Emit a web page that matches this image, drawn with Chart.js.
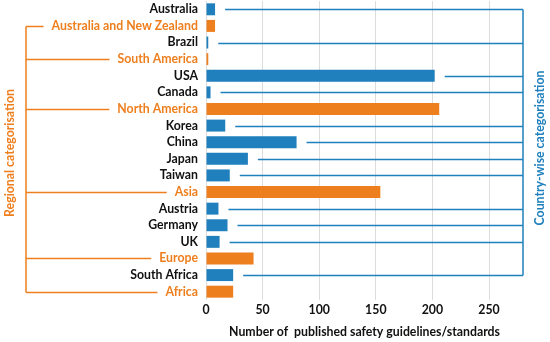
<!DOCTYPE html>
<html>
<head>
<meta charset="utf-8">
<script src="https://cdn.jsdelivr.net/npm/chart.js@4"></script>
<style>
  html, body { margin: 0; padding: 0; background: #fff; }
  #wrap { width: 550px; height: 342px; }
</style>
</head>
<body>
<div id="wrap"><canvas id="canvas"></canvas></div>
<script>
const categories = ['Australia', 'Australia and New Zealand', 'Brazil', 'South America', 'USA', 'Canada',
    'North America', 'Korea', 'China', 'Japan', 'Taiwan', 'Asia', 'Austria', 'Germany', 'UK',
    'Europe', 'South Africa', 'Africa'];
const values = [8, 8, 2, 2, 202, 4, 206, 17, 80, 37, 21, 154, 11, 19, 12, 42, 24, 24];
const isRegion = [false, true, false, true, false, false, true, false, false, false, false, true,
    false, false, false, true, false, true];
const xTicks = [0, 50, 100, 150, 200, 250];

const BLUE = '#1f80bd';
const ORANGE = '#ee7f1e';
const FONT = 'Lato, "Open Sans", sans-serif';
const FSIZE = 12.3;

// draws the brackets and the two side labels
const brackets = {
    id: 'brackets',
    afterDraw(chart) {
        const ctx = chart.ctx;
        const xs = chart.scales.x;
        const ys = chart.scales.y;
        const area = chart.chartArea;
        ctx.save();
        ctx.lineWidth = 1.5;
        ctx.font = 'bold ' + FSIZE + 'px ' + FONT;

        // regional bracket, left side
        const leftX = 26;
        let firstR = null, lastR = null;
        ctx.strokeStyle = ORANGE;
        categories.forEach((c, i) => {
            if (!isRegion[i]) return;
            const y = Math.round(ys.getPixelForValue(i)) + 0.5;
            if (firstR === null) firstR = y;
            lastR = y;
            const end = area.left - 8 - ctx.measureText(c).width - 8;
            ctx.beginPath();
            ctx.moveTo(leftX, y);
            ctx.lineTo(end, y);
            ctx.stroke();
        });
        ctx.beginPath();
        ctx.moveTo(leftX, firstR);
        ctx.lineTo(leftX, lastR);
        ctx.stroke();

        // country bracket, right side
        let firstC = null, lastC = null;
        const rightX = area.right;
        ctx.strokeStyle = BLUE;
        categories.forEach((c, i) => {
            if (isRegion[i]) return;
            const y = Math.round(ys.getPixelForValue(i)) + 0.5;
            if (firstC === null) firstC = y;
            lastC = y;
            ctx.beginPath();
            ctx.moveTo(xs.getPixelForValue(values[i]) + 10, y);
            ctx.lineTo(rightX, y);
            ctx.stroke();
        });
        ctx.beginPath();
        ctx.moveTo(rightX, firstC);
        ctx.lineTo(rightX, lastC);
        ctx.stroke();

        // rotated side titles
        ctx.textAlign = 'center';
        ctx.textBaseline = 'middle';
        ctx.fillStyle = ORANGE;
        ctx.translate(10, 153);
        ctx.rotate(-Math.PI / 2);
        ctx.fillText('Regional categorisation', 0, 0);
        ctx.setTransform(1, 0, 0, 1, 0, 0);
        ctx.fillStyle = BLUE;
        ctx.translate(540, 148);
        ctx.rotate(-Math.PI / 2);
        ctx.fillText('Country-wise categorisation', 0, 0);
        ctx.restore();
    }
};

new Chart(document.getElementById('canvas'), {
    type: 'bar',
    data: {
        labels: categories,
        datasets: [{
            data: values,
            backgroundColor: isRegion.map(r => r ? ORANGE : BLUE),
            barPercentage: 0.72,
            categoryPercentage: 1
        }]
    },
    options: {
        indexAxis: 'y',
        responsive: true,
        maintainAspectRatio: false,
        animation: false,
        layout: { padding: { top: 1, right: 27, bottom: 0, left: 0 } },
        plugins: { legend: { display: false }, tooltip: { enabled: false } },
        scales: {
            x: {
                min: 0,
                max: 280,
                afterBuildTicks: (scale) => { scale.ticks = xTicks.map(v => ({ value: v })); },
                afterFit: (scale) => { scale.height = 42; scale.paddingLeft = 0; scale.paddingRight = 0; },
                grid: { color: '#dcdcdc', drawTicks: false },
                border: { display: false },
                ticks: {
                    color: '#111',
                    padding: 3,
                    font: { family: FONT, size: FSIZE, weight: 'bold' }
                },
                title: {
                    display: true,
                    text: 'Number of  published safety guidelines/standards',
                    color: '#111',
                    padding: { top: 4, bottom: 3 },
                    font: { family: FONT, size: FSIZE, weight: 'bold' }
                }
            },
            y: {
                afterFit: (scale) => { scale.width = 206; scale.paddingTop = 0; scale.paddingBottom = 0; },
                grid: { display: false, drawTicks: false },
                border: { display: false },
                ticks: {
                    padding: 8,
                    autoSkip: false,
                    color: (c) => isRegion[c.index] ? ORANGE : '#111',
                    font: { family: FONT, size: FSIZE, weight: 'bold' }
                }
            }
        }
    },
    plugins: [brackets]
});
</script>
</body>
</html>
